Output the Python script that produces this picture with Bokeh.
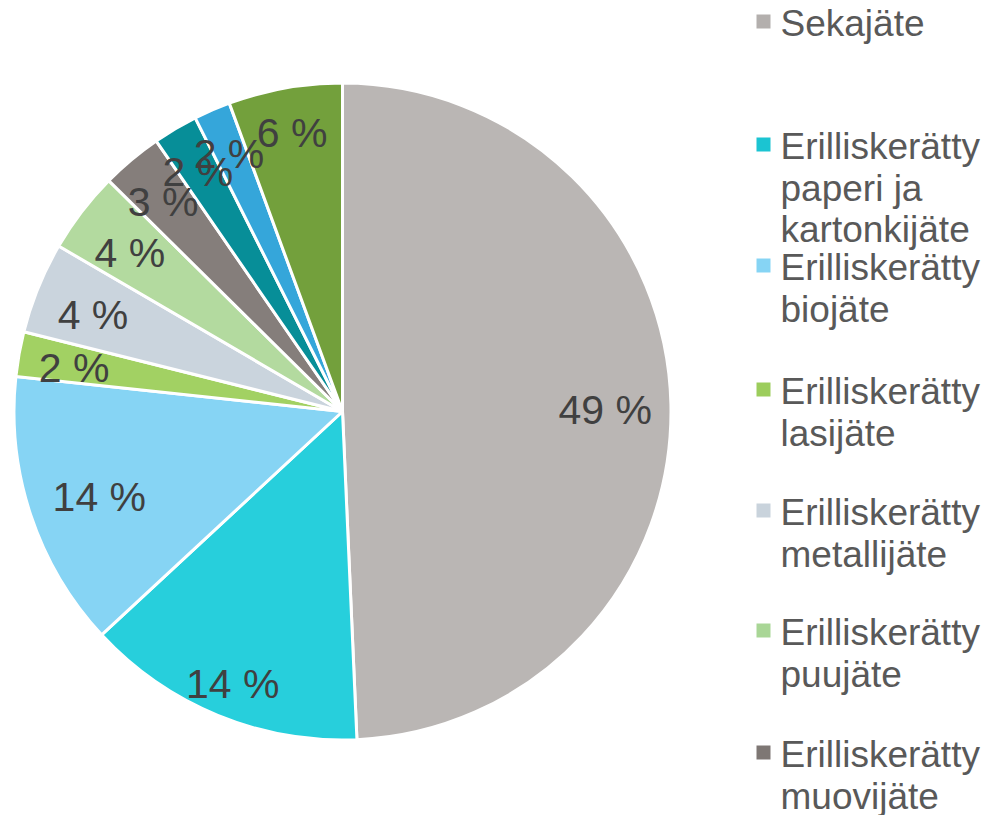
import numpy as np
from bokeh.plotting import figure
from bokeh.models import Range1d, ColumnDataSource
from bokeh.core.properties import value
from bokeh.embed import file_html
from bokeh.resources import INLINE

# ---------------- data ----------------
categories = [
    "Sekajäte",
    "Erilliskerätty paperi ja kartonkijäte",
    "Erilliskerätty biojäte",
    "Erilliskerätty lasijäte",
    "Erilliskerätty metallijäte",
    "Erilliskerätty puujäte",
    "Erilliskerätty muovijäte",
    "Erilliskerätty tekstiilijäte",
    "Erilliskerätty vaarallinen jäte",
    "Muu erilliskerätty jäte",
]
shares = [49.3, 13.8, 13.6, 2.2, 4.5, 4.0, 3.0, 2.2, 1.8, 5.6]
pct_labels = ["49 %", "14 %", "14 %", "2 %", "4 %", "4 %", "3 %", "2 %", "2 %", "6 %"]

# legend (only first seven entries visible in the original)
legend_lines = [
    ["Sekajäte"],
    ["Erilliskerätty", "paperi ja", "kartonkijäte"],
    ["Erilliskerätty", "biojäte"],
    ["Erilliskerätty", "lasijäte"],
    ["Erilliskerätty", "metallijäte"],
    ["Erilliskerätty", "puujäte"],
    ["Erilliskerätty", "muovijäte"],
]

# ---------------- styles / layout ----------------
colors = ["#BAB6B4", "#27CFDC", "#86D4F4", "#A2D163", "#CAD4DD",
          "#B3DA9F", "#857E7B", "#078E98", "#35A6DA", "#73A03C"]
legend_colors = ["#B3AFAD", "#1BC4D2", "#86D4F4", "#9CCD5C", "#C9D3DC",
                 "#A9D696", "#7E7774"]
label_r_frac = [0.80, 0.88, 0.78, 0.83, 0.82, 0.815, 0.85, 0.865, 0.87, 0.875]

W, H = 987, 815
CX, CY_SCREEN, R = 342, 411, 328.5
CY = H - CY_SCREEN
BASE_FIX = 10  # renderer places alphabetic baseline ~10px low

FONT = "Liberation Sans"

p = figure(width=W, height=H, output_backend="svg", toolbar_location=None,
           x_range=Range1d(0, W), y_range=Range1d(0, H), min_border=0)
p.axis.visible = False
p.grid.visible = False
p.outline_line_color = None
p.background_fill_color = "white"
p.border_fill_color = "white"

vals = np.array(shares, dtype=float)
frac = vals / vals.sum()
cum_end = np.cumsum(frac)
cum_start = cum_end - frac
start_ang = np.pi / 2 - 2 * np.pi * cum_end
end_ang = np.pi / 2 - 2 * np.pi * cum_start

src = ColumnDataSource(dict(start=start_ang, end=end_ang, color=colors, cat=categories))
p.wedge(x=CX, y=CY, radius=R, start_angle="start", end_angle="end",
        direction="anticlock", fill_color="color", line_color="white",
        line_width=3, source=src)

# percentage labels
mid = (start_ang + end_ang) / 2
lr = np.array(label_r_frac) * R
lab_fs = 41
lx = CX + lr * np.cos(mid)
ly = CY + lr * np.sin(mid) - 0.358 * lab_fs + BASE_FIX
p.text(x=lx, y=ly, text=pct_labels, text_align="center", text_baseline="alphabetic",
       text_font=value(FONT), text_font_size=f"{lab_fs}px", text_color="#404040")

# legend
first_baselines = [33, 156, 277, 401, 522, 642, 764]
line_step = 41.5
tx, ty, tt = [], [], []
mx, my = [], []
for lines, b in zip(legend_lines, first_baselines):
    for k, t in enumerate(lines):
        tx.append(780)
        ty.append(H - (b + k * line_step) + BASE_FIX)
        tt.append(t)
    mx.append(763)
    my.append(H - (b - 12))
p.scatter(x=mx, y=my, marker="square", size=14, fill_color=legend_colors,
          line_color=None)
p.text(x=tx, y=ty, text=tt, text_align="left", text_baseline="alphabetic",
       text_font=value(FONT), text_font_size="37px", text_color="#595959")

open("out.html", "w").write(file_html(p, INLINE))
